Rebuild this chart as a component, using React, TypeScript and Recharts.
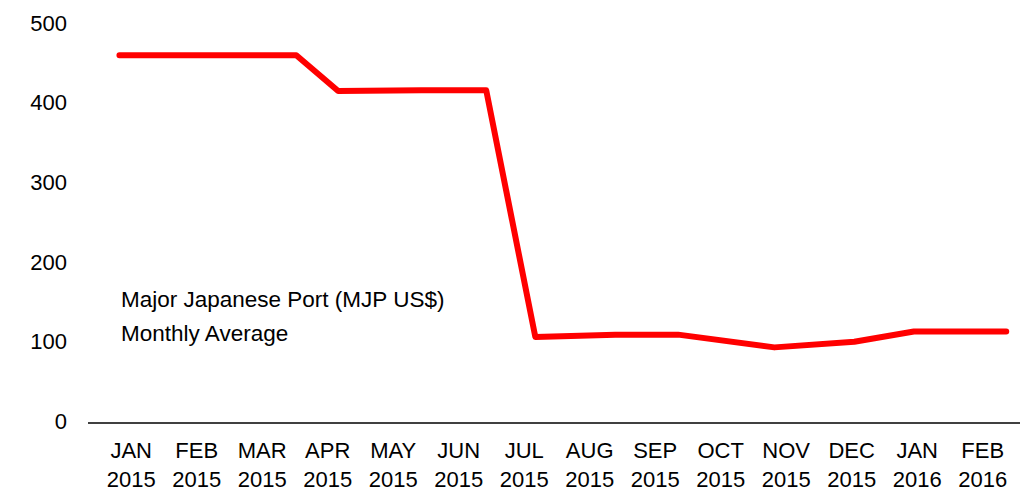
import React from 'react';
import { LineChart, Line, XAxis, YAxis } from 'recharts';

// tick labels, one per month (month index = position on the x axis)
const monthNames = ['JAN', 'FEB', 'MAR', 'APR', 'MAY', 'JUN', 'JUL', 'AUG', 'SEP', 'OCT', 'NOV', 'DEC', 'JAN', 'FEB'];
const monthYears = ['2015', '2015', '2015', '2015', '2015', '2015', '2015', '2015', '2015', '2015', '2015', '2015', '2016', '2016'];

// observations: position in months from JAN 2015, and the price
const obsMonth = [-0.18, 0.55, 1.56, 2.52, 3.16, 4.43, 5.42, 6.17, 7.39, 8.35, 9.82, 11.04, 11.95, 13.36];
const obsPrice = [462, 462, 462, 462, 417, 418, 418, 108, 111, 111, 95, 102, 115, 115];

const yTicks = [0, 100, 200, 300, 400, 500];

const data = obsMonth.map((m, i) => ({ m, price: obsPrice[i] }));
const xTicks = monthNames.map((_, i) => i);

const FONT = '"Liberation Sans", Arial, sans-serif';

const MonthTick = (props: any) => {
  const { x, y, payload } = props;
  const i = payload.value;
  return (
    <text x={x} y={y} textAnchor="middle" fontFamily={FONT} fontSize={22} fill="#000">
      <tspan x={x} dy={35}>{monthNames[i]}</tspan>
      <tspan x={x} dy={29}>{monthYears[i]}</tspan>
    </text>
  );
};

const App: React.FC = () => {
  return (
    <div style={{ position: 'absolute', left: 0, top: 0, width: 1029, height: 492, background: '#fff' }}>
      <LineChart width={1029} height={492} data={data} margin={{ top: 25, right: 9, left: 0, bottom: 0 }}>
        <XAxis
          dataKey="m"
          type="number"
          domain={[-0.66, 13.57]}
          ticks={xTicks}
          interval={0}
          tickLine={false}
          tickSize={0}
          tickMargin={0}
          axisLine={{ stroke: '#000', strokeWidth: 1.5 }}
          height={69}
          tick={<MonthTick />}
        />
        <YAxis
          domain={[0, 500]}
          ticks={yTicks}
          width={88}
          axisLine={false}
          tickLine={false}
          tickSize={0}
          tickMargin={21}
          tick={{ fontFamily: FONT, fontSize: 22, fill: '#000', dy: -2 }}
        />
        <Line
          type="linear"
          dataKey="price"
          stroke="#FF0000"
          strokeWidth={6}
          strokeLinejoin="round"
          strokeLinecap="round"
          dot={false}
          activeDot={false}
          isAnimationActive={false}
        />
      </LineChart>
      <div style={{ position: 'absolute', left: 121, top: 283, fontFamily: FONT, fontSize: 22.5, lineHeight: '34px', color: '#000' }}>
        Major Japanese Port (MJP US$)
        <br />
        Monthly Average
      </div>
    </div>
  );
};

export default App;
